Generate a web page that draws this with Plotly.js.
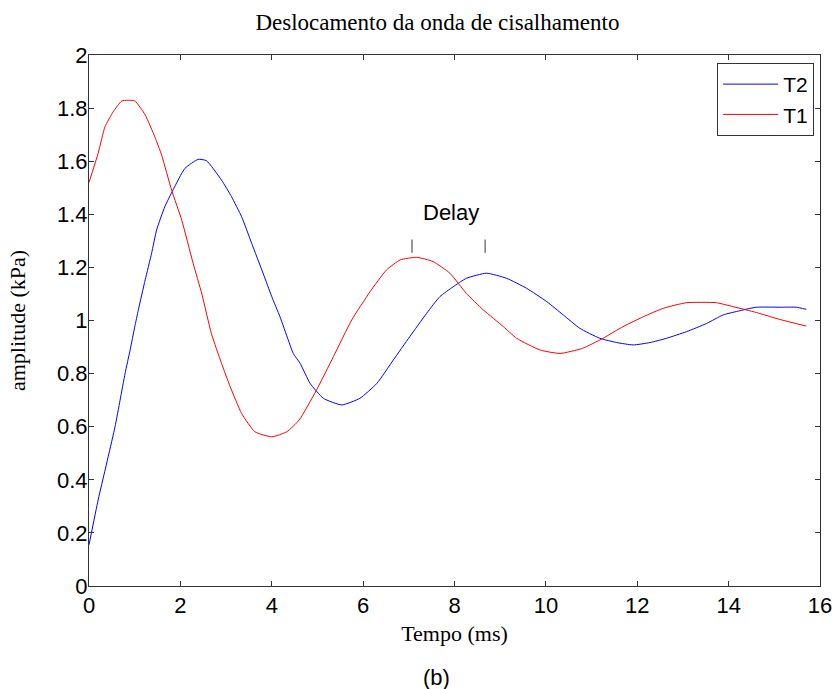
<!DOCTYPE html>
<html>
<head>
<meta charset="utf-8">
<script src="https://cdn.plot.ly/plotly-3.0.1.min.js"></script>
<style>html,body{margin:0;padding:0;background:#fff;}#chart{width:838px;height:689px;}</style>
</head>
<body>
<div id="chart"></div>
<script>
// T2 (blue)
var t2X = [0.0, 0.2, 0.42, 0.57, 0.68, 0.79, 0.9, 1.0, 1.08, 1.23, 1.37, 1.48, 1.66, 1.84, 2.1, 2.39, 2.57, 2.9, 3.12, 3.34, 3.56, 3.81, 4.0, 4.18, 4.36, 4.47, 4.62, 4.84, 5.13, 5.53, 5.93, 6.3, 6.66, 7.02, 7.39, 7.68, 7.97, 8.26, 8.7, 9.14, 9.58, 10.02, 10.38, 10.74, 11.18, 11.55, 11.91, 12.28, 12.64, 13.08, 13.52, 13.88, 14.25, 14.61, 15.12, 15.48, 15.7];
var t2Y = [0.155, 0.324, 0.487, 0.6, 0.7, 0.801, 0.889, 0.975, 1.04, 1.153, 1.253, 1.341, 1.429, 1.492, 1.573, 1.607, 1.602, 1.529, 1.466, 1.391, 1.291, 1.178, 1.09, 1.014, 0.927, 0.876, 0.839, 0.763, 0.707, 0.682, 0.707, 0.763, 0.851, 0.939, 1.027, 1.09, 1.127, 1.159, 1.178, 1.159, 1.121, 1.071, 1.021, 0.971, 0.933, 0.917, 0.908, 0.917, 0.933, 0.958, 0.989, 1.021, 1.037, 1.05, 1.05, 1.05, 1.042];
// T1 (red)
var t1X = [0.0, 0.2, 0.35, 0.53, 0.72, 1.0, 1.23, 1.44, 1.59, 1.81, 2.03, 2.28, 2.47, 2.68, 2.9, 3.09, 3.34, 3.63, 4.0, 4.33, 4.6, 4.97, 5.35, 5.75, 6.15, 6.51, 6.81, 7.17, 7.53, 7.9, 8.26, 8.63, 9.07, 9.36, 9.87, 10.31, 10.8, 11.25, 11.69, 12.13, 12.57, 13.08, 13.73, 14.1, 14.61, 15.12, 15.7];
var t1Y = [1.52, 1.63, 1.73, 1.786, 1.827, 1.827, 1.774, 1.692, 1.623, 1.49, 1.378, 1.215, 1.10, 0.95, 0.839, 0.751, 0.65, 0.581, 0.562, 0.581, 0.625, 0.735, 0.864, 1.002, 1.108, 1.19, 1.228, 1.238, 1.222, 1.178, 1.102, 1.04, 0.977, 0.933, 0.889, 0.876, 0.895, 0.933, 0.977, 1.014, 1.046, 1.067, 1.067, 1.052, 1.03, 1.004, 0.979];
// Delay marker positions
var delayX = [7.07, 8.67];
var delayYLow = 1.255;
var delayYHigh = 1.305;
var delayLabel = 'Delay';
var delayLabelPos = [7.92, 1.405];

var xTicks = [0, 2, 4, 6, 8, 10, 12, 14, 16];
var yTicks = [0, 0.2, 0.4, 0.6, 0.8, 1, 1.2, 1.4, 1.6, 1.8, 2];
var yTickText = ['0', '0.2', '0.4', '0.6', '0.8', '1', '1.2', '1.4', '1.6', '1.8', '2'];

var traces = [
  {x: t2X, y: t2Y, type: 'scatter', mode: 'lines', name: 'T2', line: {color: '#0000ff', width: 1, shape: 'spline', smoothing: 0.5}},
  {x: t1X, y: t1Y, type: 'scatter', mode: 'lines', name: 'T1', line: {color: '#ff0000', width: 1, shape: 'spline', smoothing: 0.5}}
];

var shapes = delayX.map(function (dx) {
  return {type: 'line', xref: 'x', yref: 'y', x0: dx, x1: dx, y0: delayYLow, y1: delayYHigh,
          line: {color: '#333333', width: 1}};
});

var sans = 'Liberation Sans, Arial, sans-serif';
var serif = 'Liberation Serif, Times New Roman, serif';

var axisCommon = {
  showline: true, mirror: 'ticks', linecolor: '#333333', linewidth: 1,
  ticks: 'inside', ticklen: 5, tickcolor: '#333333', showgrid: false, zeroline: false,
  tickfont: {family: sans, size: 22, color: '#000'}
};

var layout = {
  width: 838, height: 689,
  margin: {l: 89, r: 18, t: 55, b: 103},
  paper_bgcolor: '#fff', plot_bgcolor: '#fff',
  title: {text: 'Deslocamento da onda de cisalhamento', font: {family: serif, size: 23, color: '#000'}, x: 0.522, xanchor: 'center', y: 0.968, yanchor: 'middle'},
  xaxis: Object.assign({}, axisCommon, {range: [0, 16], tickvals: xTicks, ticktext: xTicks.map(String), ticklabelstandoff: 0,
    title: {text: 'Tempo (ms)', font: {family: serif, size: 22, color: '#000'}, standoff: 8}}),
  yaxis: Object.assign({}, axisCommon, {range: [0, 2], tickvals: yTicks, ticktext: yTickText, ticklabelstandoff: -4,
    title: {text: 'amplitude (kPa)', font: {family: serif, size: 22, color: '#000'}, standoff: 25}}),
  showlegend: true,
  legend: {x: 0.992, xanchor: 'right', y: 0.985, yanchor: 'top', bgcolor: '#fff', bordercolor: '#333333', borderwidth: 1,
    font: {family: sans, size: 21, color: '#000'}, tracegroupgap: 0, itemwidth: 55},
  shapes: shapes,
  annotations: [
    {x: delayLabelPos[0], y: delayLabelPos[1], xref: 'x', yref: 'y', text: delayLabel, showarrow: false,
     font: {family: sans, size: 22, color: '#000'}},
    {x: 0.476, y: -0.172, xref: 'paper', yref: 'paper', text: '(b)', showarrow: false, yanchor: 'middle',
     font: {family: sans, size: 22, color: '#000'}}
  ]
};

Plotly.newPlot('chart', traces, layout, {displayModeBar: false, staticPlot: true});
</script>
</body>
</html>
